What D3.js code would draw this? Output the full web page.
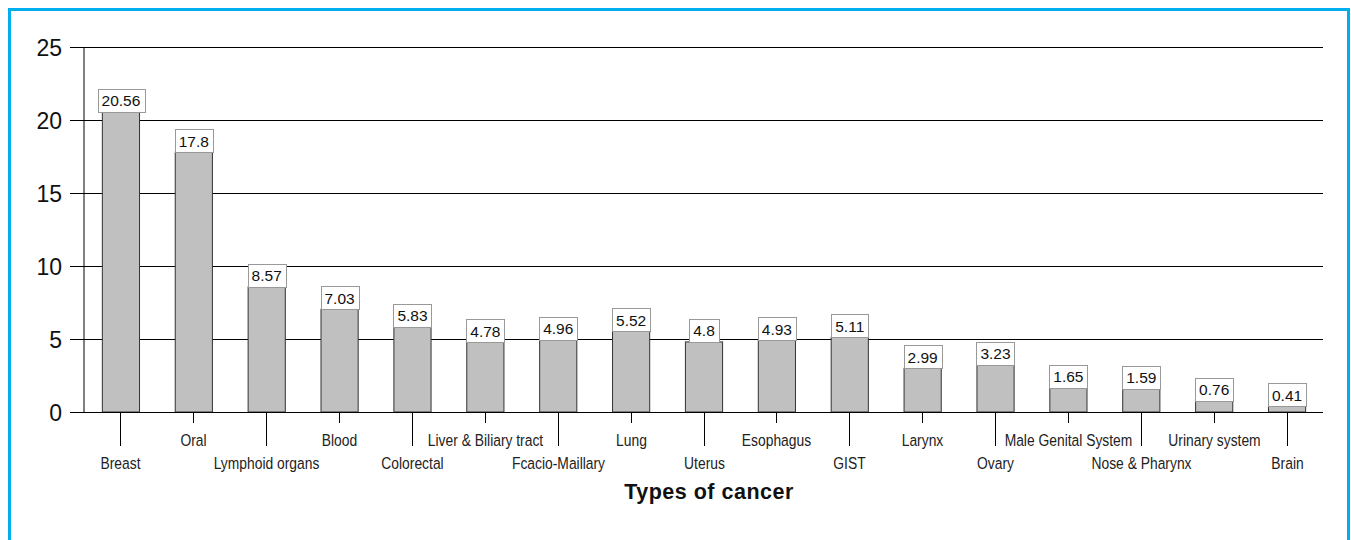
<!DOCTYPE html>
<html>
<head>
<meta charset="utf-8">
<script src="https://cdn.jsdelivr.net/npm/d3@7"></script>
<style>
  body { margin: 0; background: #fff; }
  svg { display: block; font-family: "Liberation Sans", Arial, sans-serif; }
</style>
</head>
<body>
<div id="chart"></div>
<script>
// data
var categories = ["Breast", "Oral", "Lymphoid organs", "Blood", "Colorectal",
  "Liver & Biliary tract", "Fcacio-Maillary", "Lung", "Uterus", "Esophagus",
  "GIST", "Larynx", "Ovary", "Male Genital System", "Nose & Pharynx",
  "Urinary system", "Brain"];
var values = [20.56, 17.8, 8.57, 7.03, 5.83, 4.78, 4.96, 5.52, 4.8, 4.93,
  5.11, 2.99, 3.23, 1.65, 1.59, 0.76, 0.41];
var yTicks = [0, 5, 10, 15, 20, 25];

// setup dimensions
var W = 1351, H = 540;
var margin = {top: 47, right: 28, bottom: 128, left: 84},
  width = W - margin.left - margin.right,
  height = H - margin.top - margin.bottom;

var svg = d3.select("#chart").append("svg")
  .attr("width", W)
  .attr("height", H);

// blue frame
svg.append("path")
  .attr("d", "M9.5,545 L9.5,9.5 L1348.5,9.5 L1348.5,545")
  .attr("fill", "none")
  .attr("stroke", "#00aeef")
  .attr("stroke-width", 3);

var g = svg.append("g")
  .attr("transform", "translate(" + margin.left + "," + margin.top + ")");

// scales
var x = d3.scaleBand()
  .domain(categories)
  .range([0, width])
  .paddingInner(0.49)
  .paddingOuter(0.245);
var y = d3.scaleLinear()
  .domain([0, 25])
  .range([height, 0]);

// gridlines + y axis
var yAxis = g.append("g")
  .call(d3.axisLeft(y).tickValues(yTicks).tickSize(-(width + 14)).tickPadding(8))
  .attr("transform", "translate(-14,0)");
yAxis.select(".domain").remove();
yAxis.selectAll(".tick line").attr("stroke", "#000").attr("transform", "translate(14,0)")
  .attr("x1", -14).attr("x2", width);
yAxis.selectAll(".tick text")
  .attr("fill", "#111")
  .style("font-family", "'Liberation Sans', Arial, sans-serif")
  .style("font-size", "23px")
  .attr("x", -8)
  .attr("dy", "0.35em");

g.append("line")
  .attr("x1", 0).attr("x2", 0)
  .attr("y1", y(25)).attr("y2", y(0))
  .attr("stroke", "#000");

// bars
g.selectAll("rect.bar")
  .data(values)
  .enter().append("rect")
  .attr("class", "bar")
  .attr("x", function(d, i) { return x(categories[i]) + 0.5; })
  .attr("y", function(d) { return y(d); })
  .attr("width", x.bandwidth())
  .attr("height", function(d) { return y(0) - y(d); })
  .attr("fill", "#c0c0c0")
  .attr("stroke", "#333")
  .attr("stroke-width", 1);

// value labels in boxes
var lab = g.selectAll("g.vlab")
  .data(values)
  .enter().append("g")
  .attr("class", "vlab");
lab.append("rect");
lab.append("text")
  .attr("x", function(d, i) { return x(categories[i]) + x.bandwidth() / 2 + 0.5; })
  .attr("y", function(d) { return y(d) - 5.5; })
  .attr("text-anchor", "middle")
  .style("font-size", "15.5px")
  .attr("fill", "#111")
  .text(function(d) { return d; });
lab.each(function(d, i) {
  var t = d3.select(this).select("text").node();
  var w = t.getComputedTextLength() + 8;
  var cx = x(categories[i]) + x.bandwidth() / 2 + 0.5;
  d3.select(this).select("rect")
    .attr("x", Math.round(cx - w / 2) + 0.5)
    .attr("y", Math.round(y(d) - 23) + 0.5)
    .attr("width", Math.round(w))
    .attr("height", 23)
    .attr("fill", "#fff")
    .attr("stroke", "#999");
});

// x baseline
g.append("line")
  .attr("x1", -14).attr("x2", width)
  .attr("y1", y(0) + 0.5).attr("y2", y(0) + 0.5)
  .attr("stroke", "#000");

// x ticks and alternating labels
var xt = g.selectAll("g.xtick")
  .data(categories)
  .enter().append("g")
  .attr("class", "xtick")
  .attr("transform", function(d) {
    return "translate(" + (Math.round(x(d) + x.bandwidth() / 2) + 0.5) + "," + height + ")";
  });
xt.append("line")
  .attr("y1", 0)
  .attr("y2", function(d, i) { return i % 2 == 0 ? 34 : 11; })
  .attr("stroke", "#000");
xt.append("text")
  .attr("text-anchor", "middle")
  .attr("transform", function(d, i) {
    return "translate(0," + (i % 2 == 0 ? 57 : 33.5) + ") scale(0.84,1)";
  })
  .style("font-size", "16.5px")
  .attr("fill", "#222")
  .text(function(d) { return d; });

// axis title
svg.append("text")
  .attr("x", 709)
  .attr("y", 499)
  .attr("text-anchor", "middle")
  .style("font-family", "'Liberation Sans', Arial, Helvetica, sans-serif")
  .style("font-size", "21.5px")
  .style("font-weight", "700")
  .style("letter-spacing", "0.5px")
  .attr("fill", "#111")
  .text("Types of cancer");
</script>
</body>
</html>
